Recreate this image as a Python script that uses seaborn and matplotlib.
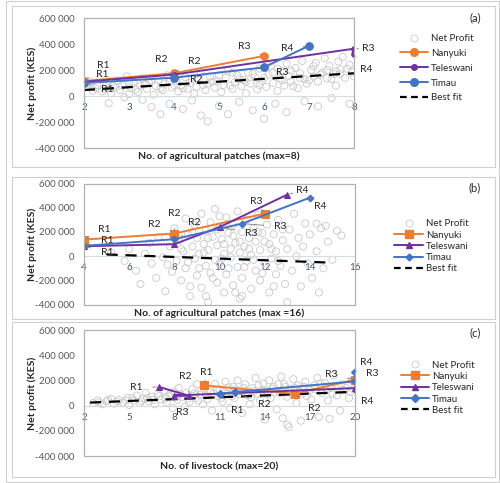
import matplotlib as mpl
mpl.use('Agg')
import matplotlib.pyplot as plt
from matplotlib.lines import Line2D
from matplotlib.patches import Rectangle
from matplotlib.ticker import FuncFormatter
import pandas as pd
import seaborn as sns

# ---------------- data ----------------
# (a) agricultural patches, max = 8
a_nanyuki_x = [2, 4, 6]
a_nanyuki_y = [115000, 175000, 308000]
a_teleswani_x = [2, 4, 8, 8]
a_teleswani_y = [110000, 165000, 364000, 325000]
a_timau_x = [2, 4, 6, 7]
a_timau_y = [100000, 141000, 220000, 387000]
a_fit_x = [2, 8]
a_fit_y = [46000, 175000]
a_xticks = [2, 3, 4, 5, 6, 7, 8]

# (b) agricultural patches, max = 16
b_nanyuki_x = [4, 8, 12]
b_nanyuki_y = [137000, 187000, 351000]
b_teleswani_x = [4, 8, 10, 13]
b_teleswani_y = [82000, 99000, 240000, 508000]
b_timau_x = [4, 8, 11, 14]
b_timau_y = [85000, 140000, 269000, 483000]
b_fit_x = [5, 14.7]
b_fit_y = [14000, -52000]
b_xticks = [4, 6, 8, 10, 12, 14, 16]

# (c) livestock, max = 20
c_nanyuki_x = [10, 16, 20]
c_nanyuki_y = [160000, 94000, 206000]
c_teleswani_x = [7, 9, 8, 20]
c_teleswani_y = [147000, 78000, 80000, 139000]
c_timau_x = [11, 12, 20, 20]
c_timau_y = [94000, 107000, 192000, 267000]
c_fit_x = [2.4, 20]
c_fit_y = [24000, 110000]
c_xticks = [2, 5, 8, 11, 14, 17, 20]

point_labels = ['R1', 'R2', 'R3', 'R4']
yticks = [-400000, -200000, 0, 200000, 400000, 600000]

# household net profit clouds (x, profit in thousand KES)
a_cloud = [(2.05, 70), (2.15, 110), (2.2, 40), (2.3, 85), (2.35, 130), (2.45, 55), (2.5, 100), (2.6, 20),
           (2.65, 75), (2.75, 120), (2.8, 45), (2.9, 95), (2.95, 150), (3.05, 60), (3.1, 110), (3.2, 30),
           (3.25, 80), (3.3, 135), (3.4, 55), (3.45, 100), (3.55, 10), (3.6, 75), (3.65, 125), (3.75, 45),
           (3.8, 95), (3.85, 160), (3.95, 65), (4.05, 115), (4.1, 35), (4.15, 80), (4.25, 145), (4.3, 55),
           (4.35, 100), (4.45, 20), (4.5, 70), (4.55, 125), (4.6, 175), (4.7, 45), (4.75, 95), (4.8, 150),
           (4.9, 65), (4.95, 115), (5.05, 30), (5.1, 85), (5.15, 140), (5.2, 195), (5.3, 55), (5.35, 105),
           (5.4, 160), (5.5, 75), (5.55, 125), (5.6, 20), (5.65, 180), (5.7, 95), (5.8, 145), (5.85, 50),
           (5.9, 210), (5.95, 115), (6.05, 70), (6.1, 165), (6.15, 230), (6.2, 100), (6.3, 40), (6.35, 135),
           (6.4, 190), (6.45, 80), (6.5, 250), (6.55, 155), (6.6, 110), (6.7, 215), (6.75, 60), (6.8, 175),
           (6.85, 270), (6.9, 130), (6.95, 95), (7.05, 200), (7.1, 150), (7.15, 255), (7.2, 110), (7.3, 180),
           (7.35, 290), (7.4, 135), (7.45, 230), (7.55, 170), (7.6, 80), (7.65, 265), (7.7, 205), (7.75, 300),
           (7.8, 140), (7.9, 240), (7.95, 185), (2.55, -55), (2.9, -10), (3.3, -30), (3.5, -85), (3.7, -140),
           (3.9, -60), (4.2, -100), (4.4, -35), (4.6, -150), (4.75, -195), (5.0, -75), (5.2, -140), (5.45, -45),
           (5.75, -110), (6.0, -175), (6.25, -60), (6.5, -125), (6.9, -40), (7.2, -80), (7.5, -15), (7.9, -60),
           (2.1, 95), (2.25, 60), (2.4, 35), (2.55, 115), (2.7, 65), (2.85, 80), (3.0, 105), (3.15, 50),
           (3.35, 90), (3.5, 120), (3.7, 60), (3.9, 110), (4.0, 85), (4.2, 60), (4.4, 130), (4.65, 85),
           (4.85, 110), (5.0, 160), (5.25, 80), (5.45, 130), (5.6, 110), (5.75, 170), (5.9, 85), (6.0, 140),
           (6.2, 180), (6.4, 120), (6.6, 195), (6.65, 75), (6.8, 140), (7.0, 120), (7.1, 230), (7.25, 165),
           (7.4, 200), (7.5, 130), (7.7, 170), (7.85, 210), (8.0, 150), (7.6, 190), (6.3, 210), (5.3, 180),
           (4.0, 145), (3.0, 15)]

b_cloud = [(5.2, 30), (5.8, -40), (6.0, 60), (6.3, -120), (6.5, -230), (6.7, 20), (6.9, 110), (7.0, -60),
           (7.2, -180), (7.3, 160), (7.5, -10), (7.6, -290), (7.8, 80), (7.9, -130), (8.0, 230), (8.1, -40),
           (8.2, 130), (8.3, -200), (8.4, 40), (8.5, 310), (8.5, -100), (8.6, 180), (8.7, -330), (8.8, 80),
           (8.9, -20), (8.9, 260), (9.0, -160), (9.0, 150), (9.1, 20), (9.2, 350), (9.2, -260), (9.3, 100),
           (9.4, -80), (9.4, 210), (9.5, -380), (9.5, 50), (9.6, 280), (9.6, -140), (9.7, 160), (9.8, -30),
           (9.8, 390), (9.9, -220), (9.9, 90), (10.0, 240), (10.0, -60), (10.1, 140), (10.2, -300), (10.2, 20),
           (10.3, 320), (10.3, -150), (10.4, 190), (10.5, 60), (10.5, -10), (10.6, -240), (10.6, 260), (10.7, 110),
           (10.8, -90), (10.8, 370), (10.9, -350), (10.9, 30), (11.0, 200), (11.0, -180), (11.1, 80), (11.2, 300),
           (11.2, -40), (11.3, 150), (11.4, -270), (11.4, 10), (11.5, 230), (11.6, -120), (11.6, 120), (11.7, 340),
           (11.8, -200), (11.8, 50), (11.9, 190), (12.0, -60), (12.1, 260), (12.2, -300), (12.2, 100), (12.3, -20),
           (12.4, 180), (12.5, -150), (12.5, 40), (12.6, 300), (12.7, -80), (12.8, 130), (12.9, -230), (13.0, 60),
           (13.1, 220), (13.2, -120), (13.3, 350), (13.4, 0), (13.5, 150), (13.6, -250), (13.7, 80), (13.8, 270),
           (13.9, -60), (14.0, 180), (14.1, -180), (14.3, 40), (14.3, 268), (14.5, 230), (14.6, -100), (14.8, 120),
           (14.7, 250), (15.0, -30), (15.2, 210), (15.4, 170), (14.4, -300), (13.0, -380),
           (8.3, 60), (8.6, -50), (8.8, 200), (9.1, -100), (9.3, 30), (9.5, 150), (9.7, -180), (9.9, 220),
           (10.1, -20), (10.2, 100), (10.4, -100), (10.6, 170), (10.7, -300), (10.9, 120), (11.1, -90), (11.3, 60),
           (11.5, -30), (11.7, 200), (11.9, -140), (12.0, 120), (12.3, 60), (12.6, -40), (12.8, 220), (9.0, 280),
           (10.0, 330), (8.7, -250), (11.0, -330), (9.4, -330), (12.4, -250), (7.7, -70)]

c_cloud = [(2.6, 20), (2.9, 40), (3.2, 10), (3.5, 35), (3.8, 55), (4.0, 15), (4.3, 45), (4.6, 25), (4.9, 60),
           (5.0, 5), (5.3, 40), (5.5, 80), (5.7, 20), (5.9, 55), (6.1, 100), (6.3, 35), (6.5, 70), (6.7, 10),
           (6.9, 90), (7.1, 50), (7.3, 120), (7.5, 25), (7.7, 75), (7.9, -20), (8.0, 110), (8.2, 45), (8.3, 140),
           (8.5, 70), (8.7, -10), (8.8, 100), (9.0, 30), (9.2, 130), (9.4, 60), (9.5, 170), (9.7, 85), (9.9, 10),
           (10.0, 140), (10.2, 50), (10.4, 110), (10.5, -40), (10.7, 170), (10.9, 75), (11.0, 130), (11.2, 30),
           (11.4, 190), (11.5, 95), (11.7, -20), (11.9, 150), (12.0, 60), (12.2, 200), (12.4, 115), (12.5, -60),
           (12.7, 170), (12.9, 80), (13.0, 10), (13.2, 140), (13.4, 220), (13.5, 95), (13.7, 40), (13.9, 175),
           (14.0, -110), (14.1, 120), (14.3, 200), (14.4, 60), (14.6, 150), (14.8, -30), (15.0, 100), (15.1, 230),
           (15.3, 170), (15.5, -150), (15.5, 70), (15.7, 130), (15.9, 210), (16.1, 20), (16.2, 160), (16.4, -120),
           (16.5, 95), (16.7, 190), (16.9, 130), (17.1, 50), (17.3, 160), (17.5, 220), (17.6, -90), (17.8, 100),
           (18.0, 180), (18.2, 40), (18.3, -105), (18.4, 140), (18.6, 240), (18.8, 80), (19.0, -40), (19.1, 170),
           (19.3, 120), (19.6, 60), (19.8, 200), (15.2, -100), (15.6, -170),
           (3.0, 25), (3.6, 45), (4.2, 30), (4.8, 40), (5.2, 60), (5.8, 35), (6.2, 60), (6.6, 45), (7.0, 75),
           (7.4, 55), (7.8, 95), (8.1, 65), (8.4, 90), (8.9, 55), (9.3, 95), (9.6, 40), (9.8, 115), (10.1, 80),
           (10.6, 95), (10.8, 125), (11.1, 60), (11.3, 110), (11.6, 145), (11.8, 75), (12.1, 125), (12.3, 90),
           (12.6, 140), (12.8, 100), (13.1, 65), (13.3, 115), (13.6, 160), (13.8, 120), (14.2, 90), (14.5, 135),
           (14.7, 105), (14.9, 170), (15.2, 120), (15.4, 150), (15.8, 100), (16.0, 140), (16.3, 115), (16.6, 150),
           (16.8, 75), (17.0, 120), (17.4, 130), (17.7, 175), (18.1, 120), (18.5, 95), (18.9, 150), (19.4, 140),
           (19.7, 110), (19.9, 130)]

# ---------------- style ----------------
sns.set_style('white')
plt.rcParams['font.family'] = ['Lato', 'DejaVu Sans']
plt.rcParams['axes.unicode_minus'] = False

W, H = 500, 483
ORANGE, PURPLE, BLUE = '#ED7D31', '#7030A0', '#4472C4'
CLOUD = '#c8c8c8'
FRAME = '#b0b0b0'


def px_rect(left, top, right, bottom):
    return [left / W, 1 - bottom / H, (right - left) / W, (bottom - top) / H]


fig = plt.figure(figsize=(5, 4.83), dpi=100)

# panel frames
for (l, t, r, b) in [(6, 1, 499, 482), (12, 6, 495, 167), (12, 177, 495, 319), (12, 322, 495, 477)]:
    fig.patches.append(Rectangle((l / W, 1 - b / H), (r - l) / W, (b - t) / H, transform=fig.transFigure,
                                 fill=False, ec='#d0d0d0', lw=0.8))


def draw_panel(rect, cloud, series, fit, xlim, xticks, xlabel, tag, tag_y, xlabel_y, ylabel_y, leg):
    ax = fig.add_axes(px_rect(*rect))
    cdf = pd.DataFrame(cloud, columns=['x', 'y'])
    cdf['y'] = cdf['y'] * 1000
    ax.scatter(cdf['x'], cdf['y'], s=26, facecolors='none', edgecolors=CLOUD, linewidths=0.6, zorder=1)

    fdf = pd.DataFrame({'x': fit[0], 'y': fit[1]})
    sns.lineplot(data=fdf, x='x', y='y', ax=ax, color='black', lw=1.6, linestyle=(0, (5, 3.5)),
                 sort=False, estimator=None, zorder=3)

    handles = [Line2D([], [], marker='o', ls='none', mfc='none', mec=CLOUD, ms=5, mew=0.6, label='Net Profit')]
    for name, xs, ys, color, marker, ms, offs in series:
        df = pd.DataFrame({'x': xs, 'y': ys})
        sns.lineplot(data=df, x='x', y='y', ax=ax, color=color, lw=1.4, marker=marker, markersize=ms,
                     markeredgecolor=color, markerfacecolor=color, sort=False, estimator=None, zorder=4)
        for i, (px, py) in enumerate(zip(xs, ys)):
            dx, dy = offs[i]
            ax.annotate(point_labels[i], (px, py), xytext=(dx, dy), textcoords='offset pixels',
                        ha='center', va='center', fontsize=7.5, color='#262626', zorder=6,
                        arrowprops=dict(arrowstyle='-', color='#7f7f7f', lw=0.6, shrinkA=5, shrinkB=2))
        handles.append(Line2D([], [], color=color, lw=1.4, marker=marker, ms=ms, label=name))
    handles.append(Line2D([], [], color='black', lw=1.6, ls=(0, (3, 2)), label='Best fit'))

    ax.set_xlim(*xlim)
    ax.set_ylim(-400000, 600000)
    ax.set_xticks(xticks)
    ax.set_yticks(yticks)
    ax.yaxis.set_major_formatter(FuncFormatter(lambda v, p: f'{int(v):,}'.replace(',', ' ')))
    ax.tick_params(axis='x', length=0, pad=5, labelsize=7, labelcolor='#44546A')
    ax.tick_params(axis='y', length=0, pad=7, labelsize=7, labelcolor='#595959')
    for s in ['left', 'right', 'top']:
        ax.spines[s].set_visible(False)
    ax.spines['bottom'].set_position(('data', 0))
    ax.spines['bottom'].set_color('#d6dce4')
    ax.spines['bottom'].set_linewidth(0.8)
    ax.add_patch(Rectangle((0, 0), 1, 1, transform=ax.transAxes, fill=False, ec=FRAME, lw=0.9,
                           clip_on=False, zorder=5))
    ax.set_xlabel('')
    ax.set_ylabel('')

    cx = (rect[0] + rect[2]) / 2 / W
    fig.text(cx, 1 - xlabel_y / H, xlabel, ha='center', va='center', fontsize=7.5, weight='bold')
    fig.text(32 / W, 1 - ylabel_y / H, 'Net profit (KES)', rotation=90, ha='center', va='center',
             fontsize=7.5, weight='bold')
    fig.text(475 / W, 1 - tag_y / H, tag, ha='center', va='center', fontsize=8)

    lx, ly, hl, sp = leg
    ax.legend(handles=handles, loc='upper left', bbox_to_anchor=(lx / W, 1 - ly / H),
              bbox_transform=fig.transFigure, frameon=False, fontsize=7, handlelength=hl,
              handletextpad=0.3, labelspacing=sp, borderpad=0, borderaxespad=0)
    return ax


draw_panel((84, 18, 354, 148), a_cloud,
           [('Nanyuki', a_nanyuki_x, a_nanyuki_y, ORANGE, 'o', 5.5, [(19, 16), (20, 12), (-20, 9)]),
            ('Teleswani', a_teleswani_x, a_teleswani_y, PURPLE, 'o', 4, [(18, 7), (-13, 15), (14, 0), (12, -16)]),
            ('Timau', a_timau_x, a_timau_y, BLUE, 'o', 5.5, [(23, -6), (22, -2), (18, -5), (-22, -3)])],
           (a_fit_x, a_fit_y), (2, 8), a_xticks, 'No. of agricultural patches (max=8)', '(a)', 18, 156.5, 83,
           (400, 34, 2.9, 0.6))

draw_panel((84, 183.5, 355, 304.6), b_cloud,
           [('Nanyuki', b_nanyuki_x, b_nanyuki_y, ORANGE, 's', 6, [(20, 10), (0, 20), (-8, 12)]),
            ('Teleswani', b_teleswani_x, b_teleswani_y, PURPLE, '^', 4.5, [(23, -6), (20, 22), (32, -6), (15, 4)]),
            ('Timau', b_timau_x, b_timau_y, BLUE, 'D', 3.5, [(23, 5), (-20, 15), (38, -3), (10, -9)])],
           (b_fit_x, b_fit_y), (4, 16), b_xticks, 'No. of agricultural patches (max =16)', '(b)', 188, 313, 244,
           (394, 219.5, 3.0, 0.22))

draw_panel((84, 330, 355, 456), c_cloud,
           [('Nanyuki', c_nanyuki_x, c_nanyuki_y, ORANGE, 's', 6, [(2, 13), (19, -15), (-24, 5)]),
            ('Teleswani', c_teleswani_x, c_teleswani_y, PURPLE, '^', 5, [(-23, 0), (-4, 19), (8, -17), (12, -13)]),
            ('Timau', c_timau_x, c_timau_y, BLUE, 'D', 4.5, [(18, -17), (30, -12), (17, 8), (11, 9)])],
           (c_fit_x, c_fit_y), (2, 20), c_xticks, 'No. of livestock (max=20)', '(c)', 333, 466.7, 393,
           (401, 360.5, 2.9, 0.24))

plt.savefig('out.png', dpi=100)
